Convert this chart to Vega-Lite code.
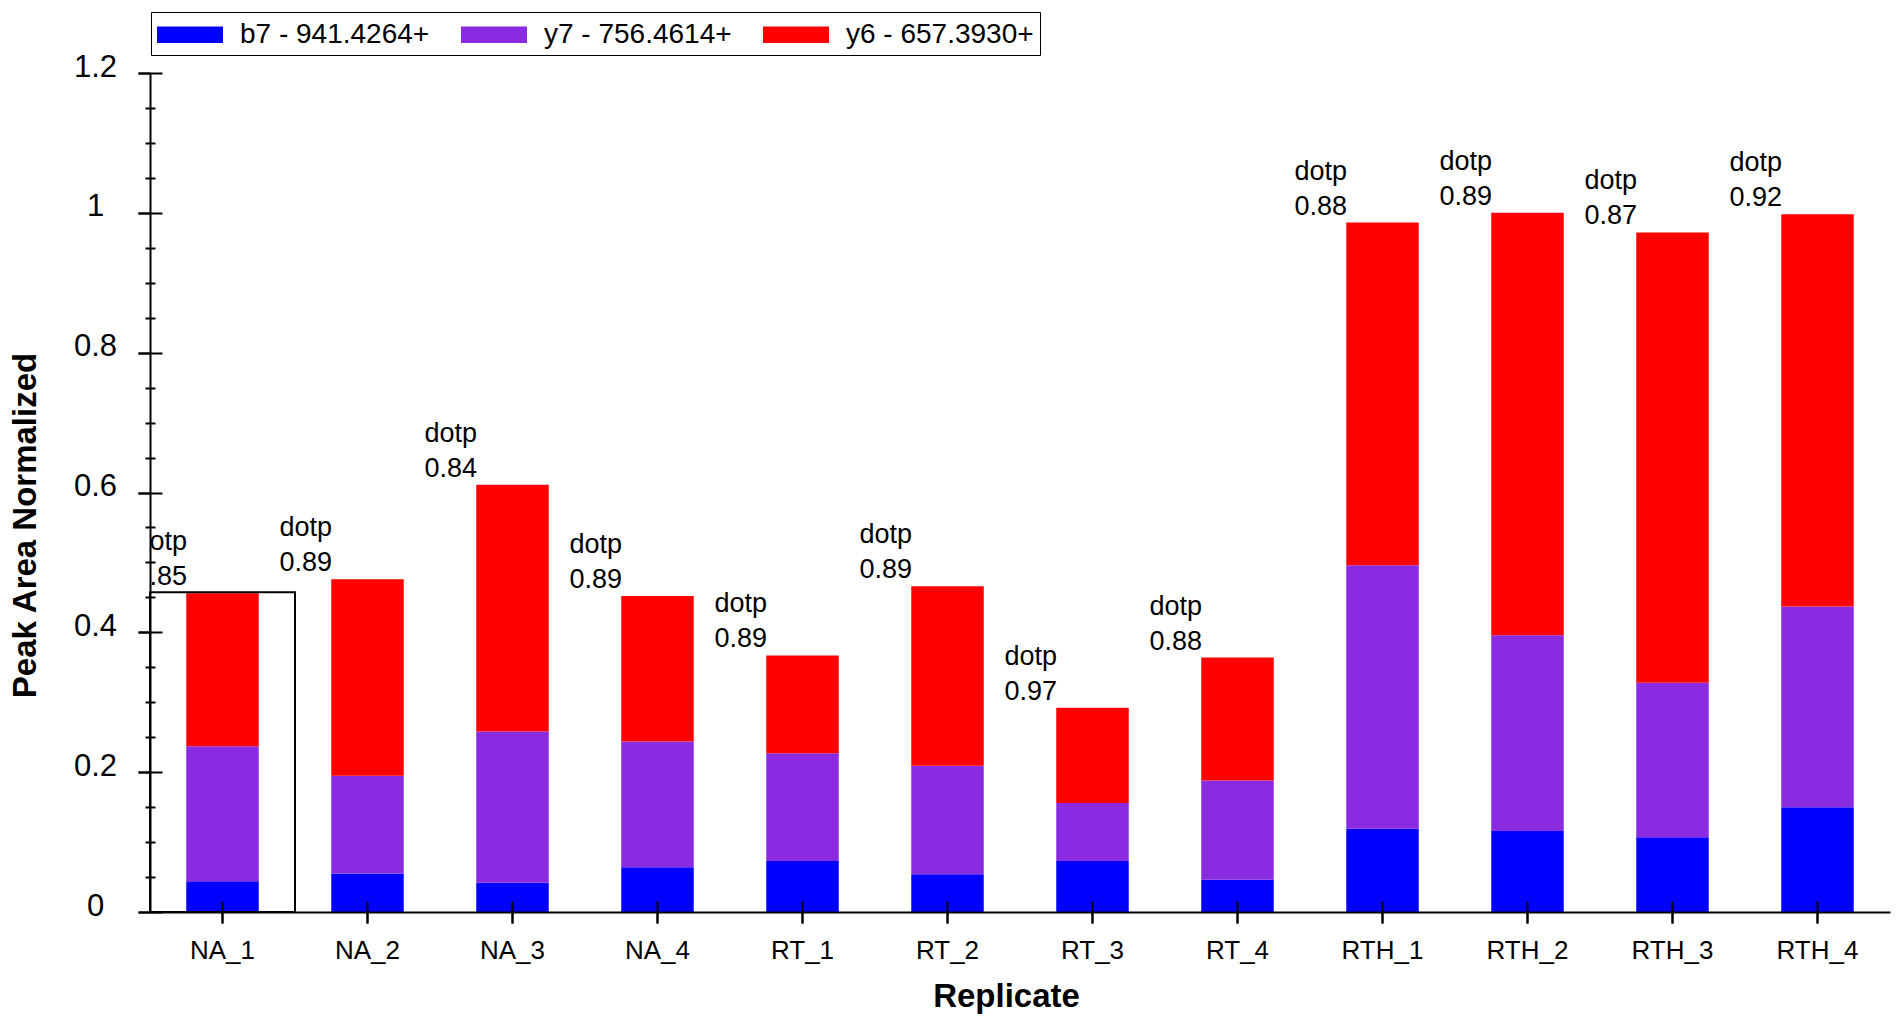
{
  "$schema": "https://vega.github.io/schema/vega-lite/v6.json",
  "width": 1740,
  "height": 839,
  "autosize": {"type": "none"},
  "padding": {"left": 150, "top": 73, "right": 11, "bottom": 112},
  "background": "white",
  "config": {"view": {"stroke": null}, "font": "Liberation Sans"},
  "resolve": {"axis": {"x": "independent", "y": "independent"}},
  "datasets": {
    "segments": [
      {"Replicate": "NA_1", "Ion": "b7 - 941.4264+", "IonOrder": 1, "PeakArea": 0.044},
      {"Replicate": "NA_1", "Ion": "y7 - 756.4614+", "IonOrder": 2, "PeakArea": 0.193},
      {"Replicate": "NA_1", "Ion": "y6 - 657.3930+", "IonOrder": 3, "PeakArea": 0.219},
      {"Replicate": "NA_2", "Ion": "b7 - 941.4264+", "IonOrder": 1, "PeakArea": 0.055},
      {"Replicate": "NA_2", "Ion": "y7 - 756.4614+", "IonOrder": 2, "PeakArea": 0.140},
      {"Replicate": "NA_2", "Ion": "y6 - 657.3930+", "IonOrder": 3, "PeakArea": 0.281},
      {"Replicate": "NA_3", "Ion": "b7 - 941.4264+", "IonOrder": 1, "PeakArea": 0.042},
      {"Replicate": "NA_3", "Ion": "y7 - 756.4614+", "IonOrder": 2, "PeakArea": 0.216},
      {"Replicate": "NA_3", "Ion": "y6 - 657.3930+", "IonOrder": 3, "PeakArea": 0.353},
      {"Replicate": "NA_4", "Ion": "b7 - 941.4264+", "IonOrder": 1, "PeakArea": 0.064},
      {"Replicate": "NA_4", "Ion": "y7 - 756.4614+", "IonOrder": 2, "PeakArea": 0.180},
      {"Replicate": "NA_4", "Ion": "y6 - 657.3930+", "IonOrder": 3, "PeakArea": 0.208},
      {"Replicate": "RT_1", "Ion": "b7 - 941.4264+", "IonOrder": 1, "PeakArea": 0.073},
      {"Replicate": "RT_1", "Ion": "y7 - 756.4614+", "IonOrder": 2, "PeakArea": 0.154},
      {"Replicate": "RT_1", "Ion": "y6 - 657.3930+", "IonOrder": 3, "PeakArea": 0.140},
      {"Replicate": "RT_2", "Ion": "b7 - 941.4264+", "IonOrder": 1, "PeakArea": 0.054},
      {"Replicate": "RT_2", "Ion": "y7 - 756.4614+", "IonOrder": 2, "PeakArea": 0.155},
      {"Replicate": "RT_2", "Ion": "y6 - 657.3930+", "IonOrder": 3, "PeakArea": 0.257},
      {"Replicate": "RT_3", "Ion": "b7 - 941.4264+", "IonOrder": 1, "PeakArea": 0.073},
      {"Replicate": "RT_3", "Ion": "y7 - 756.4614+", "IonOrder": 2, "PeakArea": 0.083},
      {"Replicate": "RT_3", "Ion": "y6 - 657.3930+", "IonOrder": 3, "PeakArea": 0.136},
      {"Replicate": "RT_4", "Ion": "b7 - 941.4264+", "IonOrder": 1, "PeakArea": 0.046},
      {"Replicate": "RT_4", "Ion": "y7 - 756.4614+", "IonOrder": 2, "PeakArea": 0.142},
      {"Replicate": "RT_4", "Ion": "y6 - 657.3930+", "IonOrder": 3, "PeakArea": 0.176},
      {"Replicate": "RTH_1", "Ion": "b7 - 941.4264+", "IonOrder": 1, "PeakArea": 0.119},
      {"Replicate": "RTH_1", "Ion": "y7 - 756.4614+", "IonOrder": 2, "PeakArea": 0.377},
      {"Replicate": "RTH_1", "Ion": "y6 - 657.3930+", "IonOrder": 3, "PeakArea": 0.490},
      {"Replicate": "RTH_2", "Ion": "b7 - 941.4264+", "IonOrder": 1, "PeakArea": 0.116},
      {"Replicate": "RTH_2", "Ion": "y7 - 756.4614+", "IonOrder": 2, "PeakArea": 0.280},
      {"Replicate": "RTH_2", "Ion": "y6 - 657.3930+", "IonOrder": 3, "PeakArea": 0.604},
      {"Replicate": "RTH_3", "Ion": "b7 - 941.4264+", "IonOrder": 1, "PeakArea": 0.107},
      {"Replicate": "RTH_3", "Ion": "y7 - 756.4614+", "IonOrder": 2, "PeakArea": 0.221},
      {"Replicate": "RTH_3", "Ion": "y6 - 657.3930+", "IonOrder": 3, "PeakArea": 0.644},
      {"Replicate": "RTH_4", "Ion": "b7 - 941.4264+", "IonOrder": 1, "PeakArea": 0.150},
      {"Replicate": "RTH_4", "Ion": "y7 - 756.4614+", "IonOrder": 2, "PeakArea": 0.287},
      {"Replicate": "RTH_4", "Ion": "y6 - 657.3930+", "IonOrder": 3, "PeakArea": 0.561}
    ],
    "labels": [
      {"Replicate": "NA_1", "Total": 0.456, "Label": "dotp\n0.85"},
      {"Replicate": "NA_2", "Total": 0.476, "Label": "dotp\n0.89"},
      {"Replicate": "NA_3", "Total": 0.611, "Label": "dotp\n0.84"},
      {"Replicate": "NA_4", "Total": 0.452, "Label": "dotp\n0.89"},
      {"Replicate": "RT_1", "Total": 0.367, "Label": "dotp\n0.89"},
      {"Replicate": "RT_2", "Total": 0.466, "Label": "dotp\n0.89"},
      {"Replicate": "RT_3", "Total": 0.292, "Label": "dotp\n0.97"},
      {"Replicate": "RT_4", "Total": 0.364, "Label": "dotp\n0.88"},
      {"Replicate": "RTH_1", "Total": 0.986, "Label": "dotp\n0.88"},
      {"Replicate": "RTH_2", "Total": 1.000, "Label": "dotp\n0.89"},
      {"Replicate": "RTH_3", "Total": 0.972, "Label": "dotp\n0.87"},
      {"Replicate": "RTH_4", "Total": 0.998, "Label": "dotp\n0.92"}
    ],
    "selection": [
      {"Replicate": "NA_1", "Top": 0.4575}
    ]
  },
  "layer": [
    {
      "data": {"name": "segments"},
      "mark": {"type": "bar"},
      "encoding": {
        "x": {
          "field": "Replicate",
          "type": "nominal",
          "scale": {
            "domain": ["NA_1", "NA_2", "NA_3", "NA_4", "RT_1", "RT_2", "RT_3", "RT_4", "RTH_1", "RTH_2", "RTH_3", "RTH_4"],
            "paddingInner": 0.5,
            "paddingOuter": 0.25
          },
          "axis": {
            "orient": "bottom",
            "title": "Replicate",
            "labelAngle": 0,
            "labelFontSize": 26,
            "labelColor": "black",
            "labelBaseline": "alphabetic",
            "labelPadding": 35,
            "tickSize": 11,
            "tickWidth": 2,
            "tickColor": "black",
            "domainColor": "black",
            "domainWidth": 2,
            "titleFontSize": 33,
            "titleFontWeight": "bold",
            "titleColor": "black",
            "titleX": 856,
            "titleY": 94,
            "titleBaseline": "alphabetic",
            "titleAlign": "center",
            "zindex": 1
          }
        },
        "y": {
          "field": "PeakArea",
          "type": "quantitative",
          "stack": "zero",
          "scale": {"domain": [0, 1.2], "nice": false, "zero": true},
          "axis": {
            "orient": "left",
            "title": "Peak Area Normalized",
            "values": [0, 0.2, 0.4, 0.6, 0.8, 1, 1.2],
            "format": "~g",
            "labelOverlap": false,
            "labelFlush": false,
            "labelFontSize": 31,
            "labelColor": "black",
            "labelAlign": "center",
            "labelBaseline": "alphabetic",
            "labelOffset": 3,
            "labelPadding": 43,
            "tickSize": 12,
            "tickWidth": 2,
            "tickColor": "black",
            "domainColor": "black",
            "domainWidth": 2,
            "grid": false,
            "titleFontSize": 33,
            "titleFontWeight": "bold",
            "titleColor": "black",
            "titleAngle": -90,
            "titleX": -115,
            "titleY": 452,
            "titleBaseline": "alphabetic",
            "titleAlign": "center",
            "zindex": 1
          }
        },
        "color": {
          "field": "Ion",
          "type": "nominal",
          "scale": {
            "domain": ["b7 - 941.4264+", "y7 - 756.4614+", "y6 - 657.3930+"],
            "range": ["#0000FF", "#8A2BE2", "#FF0000"]
          },
          "legend": {
            "title": null,
            "orient": "none",
            "legendX": 1,
            "legendY": -61,
            "direction": "horizontal",
            "columns": 3,
            "symbolType": "M-1,-0.5H3V0.5H-1Z",
            "symbolSize": 1089,
            "symbolStrokeWidth": 0,
            "symbolOpacity": 1,
            "labelFontSize": 28,
            "labelColor": "black",
            "labelOffset": 50,
            "labelLimit": 400,
            "columnPadding": 31,
            "padding": 6,
            "strokeColor": "black",
            "fillColor": "white",
            "encode": {"legend": {"strokeWidth": {"value": 2}}}
          }
        },
        "order": {"field": "IonOrder", "type": "quantitative"}
      }
    },
    {
      "data": {"name": "selection"},
      "mark": {"type": "bar", "fillOpacity": 0, "stroke": "black", "strokeWidth": 2, "width": {"band": 2}},
      "encoding": {
        "x": {
          "field": "Replicate",
          "type": "nominal",
          "axis": {
            "orient": "bottom",
            "offset": -11,
            "tickSize": 22,
            "tickWidth": 2,
            "tickColor": "black",
            "labels": false,
            "domain": false,
            "title": null,
            "zindex": 1
          }
        },
        "y": {
          "field": "Top",
          "type": "quantitative",
          "axis": {
            "orient": "left",
            "offset": -12,
            "values": [0, 0.2, 0.4, 0.6, 0.8, 1, 1.2],
            "tickSize": 24,
            "tickWidth": 2,
            "tickColor": "black",
            "labels": false,
            "domain": false,
            "grid": false,
            "title": null,
            "zindex": 1
          }
        }
      }
    },
    {
      "data": {"name": "labels"},
      "mark": {
        "type": "text",
        "align": "left",
        "baseline": "alphabetic",
        "dx": -88,
        "dy": -43,
        "fontSize": 27,
        "lineHeight": 35,
        "lineBreak": "\n",
        "color": "black",
        "clip": true
      },
      "encoding": {
        "x": {"field": "Replicate", "type": "nominal", "axis": null},
        "y": {
          "field": "Total",
          "type": "quantitative",
          "axis": {
            "orient": "left",
            "offset": -5,
            "values": [0.05, 0.1, 0.15, 0.25, 0.3, 0.35, 0.45, 0.5, 0.55, 0.65, 0.7, 0.75, 0.85, 0.9, 0.95, 1.05, 1.1, 1.15],
            "tickSize": 10,
            "tickWidth": 2,
            "tickColor": "black",
            "labels": false,
            "domain": false,
            "grid": false,
            "title": null,
            "zindex": 1
          }
        },
        "text": {"field": "Label"}
      }
    }
  ]
}
